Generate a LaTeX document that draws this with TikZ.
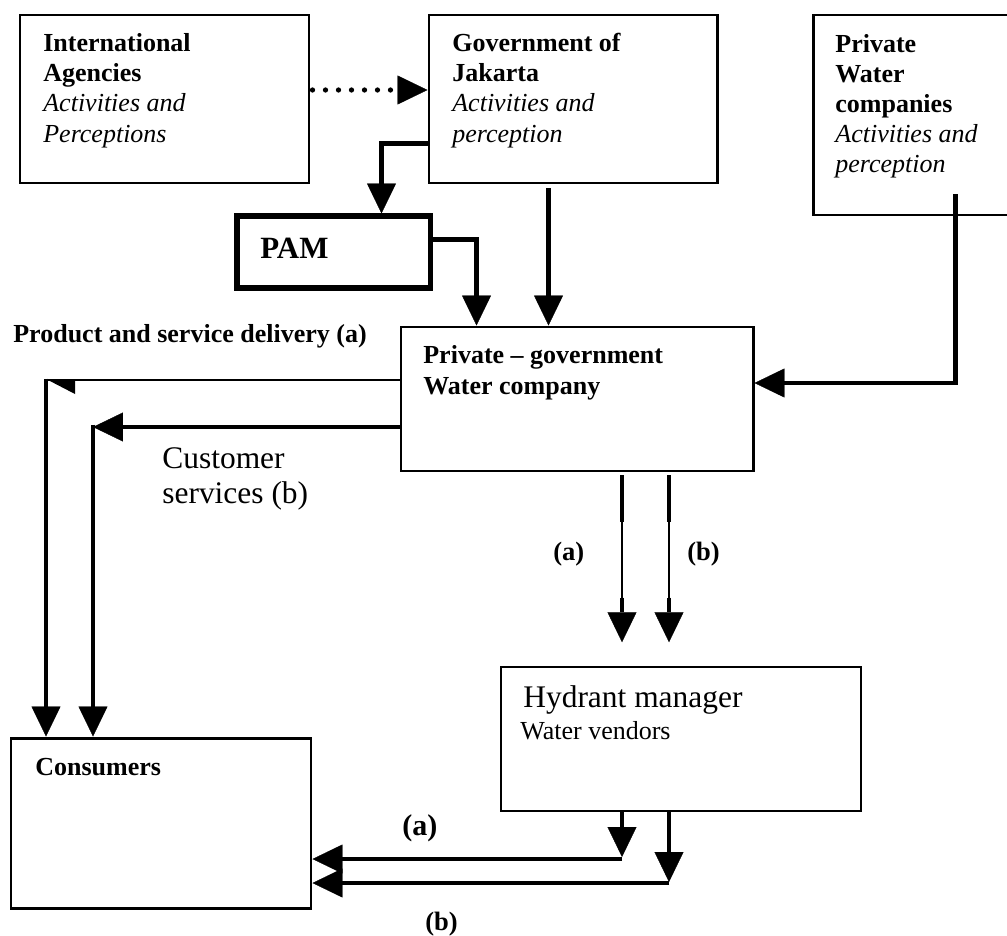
\documentclass[tikz,border=0pt]{standalone}
\usepackage{fontspec}
\setmainfont{Liberation Serif}
\usetikzlibrary{arrows.meta,calc,fit,positioning}

\newcommand{\persp}[1]{{\normalfont\itshape #1}}

\tikzset{
  box/.style={draw, line width=1.7pt, inner sep=0pt},
  pambox/.style={box, line width=2.85pt},
  hydbox/.style={box, line width=0.85pt},
  conn/.style={line width=2.7pt},
  slim/.style={line width=1.7pt},
  hair/.style={line width=0.85pt},
  arr/.style={-{Triangle[length=0.6cm,width=0.58cm,line width=0.2pt]}},
  dotline/.style={line width=3pt, line cap=round, dash pattern=on 0pt off 0.26cm},
  boxtext/.style={anchor=base west, inner sep=0pt, align=left,
    font=\fontsize{14.8}{17.1}\selectfont\bfseries},
  plaintext/.style={anchor=base west, inner sep=0pt, align=left,
    font=\fontsize{17.9}{19.4}\selectfont},
  tagtext/.style={anchor=base west, inner sep=0pt,
    font=\fontsize{15.1}{17}\selectfont\bfseries},
}

\begin{document}
\begin{tikzpicture}[x=0.02cm,y=-0.02cm]
  \useasboundingbox (0,0) rectangle (1007,936);
  \clip (0,0) rectangle (1007,936);

  % THE BOXES
  \node[box, fit={(20,15) (309,183)}] (intl) {};
  \node[box, fit={(429,15) (717,183)}] (gov) {};
  \node[box, fit={(813,15) (1020,215)}] (pwc) {};
  \node[pambox, fit={(237,216) (430,288)}] (pam) {};
  \node[box, fit={(401,327) (753,471)}] (pgw) {};
  \node[hydbox, fit={(501,667) (861,811)}] (hyd) {};
  \node[box, fit={(11,738) (311,908)}] (cons) {};

  % THE TEXTS (base = last line)
  \node[boxtext] (intl-t) at (43,142) {International\\Agencies\\\persp{Activities and}\\\persp{Perceptions}};
  \node[boxtext] (gov-t) at (452,142) {Government of\\Jakarta\\\persp{Activities and}\\\persp{perception}};
  \node[boxtext] (pwc-t) at (835,173) {Private\\Water\\companies\\\persp{Activities and}\\\persp{perception}};
  \node[boxtext, font=\fontsize{17.6}{20}\selectfont\bfseries] (pam-t) at (260,258) {PAM};
  \node[boxtext] (pgw-t) at (423,394) {Private -- government\\Water company};
  \node[boxtext] (cons-t) at (35,775) {Consumers};
  \node[plaintext] (hyd-t) at (523,707) {Hydrant manager};
  \node[plaintext, font=\fontsize{14.8}{17.1}\selectfont] (vend-t) at (520,739) {Water vendors};
  \node[boxtext] (deliv) at (13,342) {Product and service delivery (a)};
  \node[plaintext] (cust) at (162,503) {Customer\\services (b)};
  \node[tagtext] (ta1) at (553,560) {(a)};
  \node[tagtext] (tb1) at (687,560) {(b)};
  \node[tagtext, font=\fontsize{17.1}{19}\selectfont\bfseries] (ta2) at (402,835) {(a)};
  \node[tagtext] (tb2) at (425,930) {(b)};

  % THE CONNECTORS
  % international -> government
  \draw[dotline, arr] ($(intl.east)+(2,-9)$) -- ($(gov.west)+(0,-9)$);
  % government -> PAM
  \draw[conn, arr] ($(gov.north west)+(0,130)$) -| ($(pam.north west)+(147,0)$);
  % PAM -> private-government
  \draw[conn, arr] ($(pam.north east)+(0,26)$) -| ($(pgw.north west)+(77,0)$);
  % government -> private-government
  \coordinate (gdown) at ($(gov.south west)+(121,4)$);
  \draw[conn, arr] (gdown) -- (gdown |- pgw.north);
  % private companies -> private-government
  \coordinate (pdown) at ($(pwc.south west)+(144,-22)$);
  \draw[conn, arr] (pdown) |- ($(pgw.east)+(0,-16)$);
  %
  % private-government -> consumers
  \coordinate (cornerA) at (46,380);
  \coordinate (cornerB) at (93,427);
  \draw[slim] (pgw.west |- cornerA) -- (cornerA);
  \fill ($(cornerA)+(2,0)$) -- ++(27,0) -- ++(0,14) -- cycle;
  \draw[conn, arr] ($(cornerA)+(0,-1.5)$) -- (cornerA |- cons.north);
  \draw[conn, arr] (pgw.west |- cornerB) -- (cornerB);
  \draw[conn, arr] ($(cornerB)+(0,-2.5)$) -- (cornerB |- cons.north);
  %
  % private-government -> hydrant
  \coordinate (stemA) at ($(pgw.south)+(45,3)$);
  \coordinate (stemB) at ($(pgw.south)+(92,3)$);
  \draw[conn] (stemA) -- ++(0,47);
  \draw[hair] ($(stemA)+(0,47)$) -- ++(0,75);
  \draw[conn, arr] ($(stemA)+(0,122)$) -- ($(stemA |- hyd.north)+(0,-24)$);
  \draw[conn] (stemB) -- ++(0,47);
  \draw[hair] ($(stemB)+(0,47)$) -- ++(0,75);
  \draw[conn, arr] ($(stemB)+(0,122)$) -- ($(stemB |- hyd.north)+(0,-24)$);
  %
  % hydrant -> consumers
  \coordinate (cornerC) at (622,859);
  \coordinate (cornerD) at (669,883);
  \draw[conn, arr] (cornerC |- hyd.south) -- ($(cornerC)+(0,-2)$);
  \draw[conn, arr] (cornerC) -- (cornerC -| cons.east);
  \draw[conn, arr] (cornerD |- hyd.south) -- ($(cornerD)+(0,-1)$);
  \draw[conn, arr] (cornerD) -- (cornerD -| cons.east);
\end{tikzpicture}
\end{document}
